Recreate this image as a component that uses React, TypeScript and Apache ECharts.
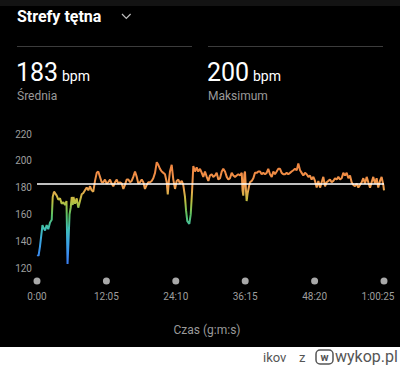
import React, { useEffect, useRef } from 'react';
import * as echarts from 'echarts';

const TIME_S = [5,16,31,49,57,68,84,101,118,136,154,164,178,206,223,240,258,275,293,308,319,329,340,352,363,373,381,397,415,431,449,467,484,501,519,536,554,571,588,606,624,640,658,676,693,710,728,745,763,780,797,815,833,849,867,885,902,919,937,954,972,989,1006,1024,1042,1058,1076,1094,1111,1128,1146,1163,1181,1198,1215,1233,1251,1267,1285,1303,1320,1337,1355,1366,1379,1389,1407,1424,1442,1459,1476,1494,1512,1528,1546,1557,1570,1591,1606,1619,1633,1651,1668,1685,1703,1721,1737,1755,1773,1790,1807,1825,1842,1860,1877,1894,1912,1930,1946,1964,1982,1999,2016,2034,2051,2069,2086,2103,2121,2139,2147,2155,2166,2173,2183,2190,2201,2215,2225,2243,2260,2277,2295,2312,2330,2347,2364,2382,2399,2416,2434,2452,2469,2486,2504,2521,2539,2556,2573,2591,2608,2625,2643,2660,2678,2695,2713,2730,2748,2765,2782,2800,2817,2835,2852,2869,2887,2904,2922,2939,2957,2974,2991,3009,3026,3043,3061,3078,3096,3113,3131,3148,3165,3183,3200,3218,3235,3253,3270,3287,3305,3322,3340,3357,3374,3392,3409,3427,3444,3461,3479,3496,3513,3531,3548,3565,3583,3600,3618,3625];
const BPM = [130,129,136,147,152,150,148,152,149,154,156,173,177,174,171,172,168,169,167,170,123,140,160,165,173,167,173,168,172,165,170,175,176,178,180,178,181,178,177,185,191,192,188,184,184,186,183,184,186,183,181,184,186,183,184,183,179,182,186,186,184,185,188,192,188,183,184,186,184,179,182,184,184,185,187,191,199,197,194,192,191,190,184,175,186,192,197,186,179,185,186,183,185,182,173,163,155,153,160,176,196,192,195,192,194,191,188,192,188,185,189,190,188,189,191,186,187,192,194,192,188,186,187,191,189,188,189,190,189,191,178,174,190,192,178,170,176,181,184,185,187,191,191,192,192,190,191,190,191,194,190,188,192,190,192,194,194,191,190,190,191,190,191,192,193,194,193,198,193,191,189,191,190,188,189,186,188,185,180,185,180,184,188,181,184,185,186,184,185,187,186,188,186,187,191,189,191,187,189,184,182,181,183,180,182,184,187,183,188,184,180,184,188,183,187,180,185,188,182,178];

const AVG_BPM = 183;
const MAX_BPM = 200;
const Y_MIN = 120;
const Y_MAX = 220;
const Y_STEP = 20;
const X_MIN = 0;
const X_MAX = 3625;
const X_STEP = 725;

const TITLE = 'Strefy tętna';
const AVG_LABEL = 'Średnia';
const MAX_LABEL = 'Maksimum';
const UNIT = 'bpm';
const X_NAME = 'Czas (g:m:s)';

const FONT = 'Roboto, "Noto Sans", sans-serif';

function fmtTime(s: number): string {
  const h = Math.floor(s / 3600);
  const m = Math.floor((s % 3600) / 60);
  const sec = Math.round(s % 60);
  const pad = (n: number) => String(n).padStart(2, '0');
  return h > 0 ? `${h}:${pad(m)}:${pad(sec)}` : `${m}:${pad(sec)}`;
}

export default function App() {
  const ref = useRef<HTMLDivElement>(null);
  useEffect(() => {
    if (!ref.current) return;
    const chart = echarts.init(ref.current, undefined, { renderer: 'svg' });
    const data = TIME_S.map((t, i) => [t, BPM[i]]);
    chart.setOption({
      animation: false,
      backgroundColor: '#000',
      textStyle: { fontFamily: FONT },
      grid: { left: 37, right: 16, top: 134, height: 134, containLabel: false, outerBoundsMode: 'none' },
      visualMap: {
        show: false,
        type: 'continuous',
        dimension: 1,
        seriesIndex: 0,
        min: 120,
        max: 200,
        inRange: {
          color: ['#3a78f0', '#3a8cf0', '#3aa6e0', '#40bfb0', '#5cc060', '#c0c040', '#f0a050', '#f08c45', '#f08540'],
        },
      },
      xAxis: {
        type: 'value',
        min: X_MIN,
        max: X_MAX,
        interval: X_STEP,
        axisLine: { show: false },
        axisTick: { show: false },
        splitLine: { show: false },
        axisLabel: {
          margin: 9.5,
          formatter: (v: number) =>
            v === X_MAX ? `{d| }\n{e|${fmtTime(v)}}` : `{d| }\n{t|${fmtTime(v)}}`,
          rich: {
            d: { width: 7, height: 7, lineHeight: 7, borderRadius: 3.5, backgroundColor: '#a9a9a9', align: 'center' },
            t: { fontSize: 10, color: '#9e9e9e', lineHeight: 23, fontFamily: FONT, align: 'center' },
            e: { fontSize: 10, color: '#9e9e9e', lineHeight: 23, fontFamily: FONT, padding: [0, 12, 0, 0] },
          },
        },
      },
      yAxis: {
        type: 'value',
        min: Y_MIN,
        max: Y_MAX,
        interval: Y_STEP,
        axisLine: { show: false },
        axisTick: { show: false },
        splitLine: { show: false },
        axisLabel: { color: '#9e9e9e', fontSize: 10, margin: 5, fontFamily: FONT },
      },
      series: [
        {
          type: 'line',
          data,
          showSymbol: false,
          lineStyle: { width: 2 },
          markLine: {
            silent: true,
            symbol: 'none',
            label: { show: false },
            lineStyle: { color: '#ffffff', width: 1.5, type: 'solid' },
            data: [{ yAxis: AVG_BPM }],
          },
        },
      ],
      graphic: [
        { type: 'rect', shape: { x: 0, y: 0, width: 400, height: 6 }, style: { fill: '#131313' } },
        { type: 'text', x: 17, y: 16, style: { text: TITLE, fill: '#ffffff', font: `bold 16px ${FONT}`, verticalAlign: 'middle' } },
        { type: 'polyline', shape: { points: [[122, 14], [126.3, 18.5], [130.6, 14]] }, style: { stroke: '#bdbdbd', lineWidth: 1.2, fill: null } },
        { type: 'line', shape: { x1: 17, y1: 46.5, x2: 192, y2: 46.5 }, style: { stroke: '#3c3c3c', lineWidth: 1 } },
        { type: 'line', shape: { x1: 208, y1: 46.5, x2: 383, y2: 46.5 }, style: { stroke: '#3c3c3c', lineWidth: 1 } },
        { type: 'text', x: 16, y: 72, style: { text: String(AVG_BPM), fill: '#ffffff', font: `25px ${FONT}`, verticalAlign: 'middle' } },
        { type: 'text', x: 62, y: 76, style: { text: UNIT, fill: '#ffffff', font: `14px ${FONT}`, verticalAlign: 'middle' } },
        { type: 'text', x: 17, y: 96, style: { text: AVG_LABEL, fill: '#9a9a9a', font: `12px ${FONT}`, verticalAlign: 'middle' } },
        { type: 'text', x: 207, y: 72, style: { text: String(MAX_BPM), fill: '#ffffff', font: `25px ${FONT}`, verticalAlign: 'middle' } },
        { type: 'text', x: 253, y: 76, style: { text: UNIT, fill: '#ffffff', font: `14px ${FONT}`, verticalAlign: 'middle' } },
        { type: 'text', x: 208, y: 96, style: { text: MAX_LABEL, fill: '#9a9a9a', font: `12px ${FONT}`, verticalAlign: 'middle' } },
        { type: 'text', x: 207, y: 330, style: { text: X_NAME, fill: '#9a9a9a', font: `12px ${FONT}`, align: 'center', verticalAlign: 'middle' } },
        { type: 'rect', shape: { x: 0, y: 347, width: 400, height: 20 }, style: { fill: '#ffffff' } },
        { type: 'text', x: 263, y: 357, style: { text: 'ikov', fill: '#555555', font: `13px ${FONT}`, verticalAlign: 'middle' } },
        { type: 'text', x: 299, y: 357, style: { text: 'z', fill: '#555555', font: `13px ${FONT}`, verticalAlign: 'middle' } },
        { type: 'rect', shape: { x: 316, y: 350, width: 17, height: 14, r: 4 }, style: { fill: 'none', stroke: '#555555', lineWidth: 1.5 } },
        { type: 'text', x: 324.5, y: 357, style: { text: 'w', fill: '#555555', font: `bold 11px ${FONT}`, align: 'center', verticalAlign: 'middle' } },
        { type: 'text', x: 335, y: 356, style: { text: 'wykop.pl', fill: '#555555', font: `16px ${FONT}`, verticalAlign: 'middle' } },
      ],
    });
    return () => chart.dispose();
  }, []);
  return (
    <div
      ref={ref}
      style={{ position: 'fixed', left: 0, top: 0, width: 400, height: 367 }}
    />
  );
}
